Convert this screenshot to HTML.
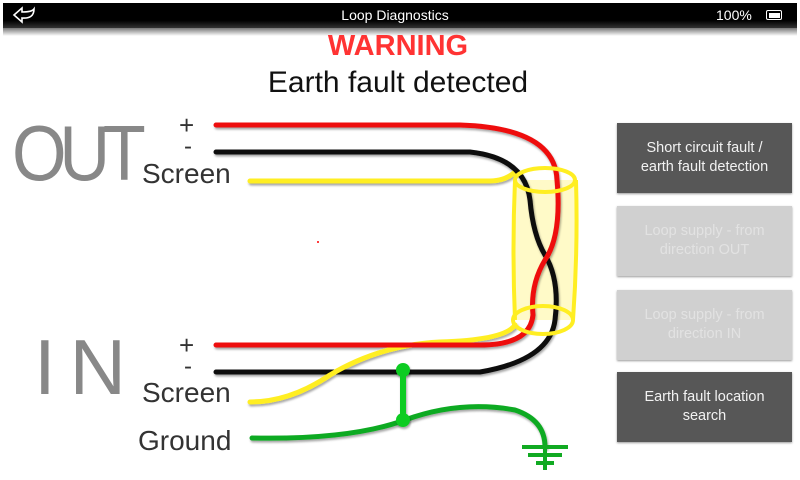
<!DOCTYPE html>
<html><head><meta charset="utf-8"><style>
html,body{margin:0;padding:0;background:#fff;width:800px;height:480px;overflow:hidden;font-family:"Liberation Sans",sans-serif}
.bar{position:absolute;left:3px;top:3px;width:794px;height:25px;background:linear-gradient(#000 0,#000 70%,#333 100%)}
.shade{position:absolute;left:3px;top:28px;width:794px;height:8px;background:linear-gradient(#777,#fff)}
.t{position:absolute;white-space:nowrap}
.btn{position:absolute;left:617px;width:175px;height:70px;display:flex;align-items:center;justify-content:center;text-align:center;font-size:14.5px;line-height:19px;box-shadow:0 1px 2px #999}
.dk{background:#575757;color:#f2f2f2}.lt{background:#d0d0d0;color:#e2e2e2}
</style></head><body>
<div class="bar"></div>
<div class="shade"></div>
<svg class="t" style="left:10px;top:5px" width="28" height="20"><path d="M4 10 L12 3 L12 7 Q22 7 24 4 Q24 14 12 13 L12 17 Z" fill="none" stroke="#fff" stroke-width="1.6"/></svg>
<div class="t" style="left:0;width:790px;text-align:center;top:7px;color:#fff;font-size:14px">Loop Diagnostics</div>
<div class="t" style="left:716px;top:7px;color:#fff;font-size:14px">100%</div>
<div class="t" style="left:766px;top:10px;width:14px;height:8px;border:1.5px solid #fff;border-radius:2px"><div style="margin:1.5px;height:5px;background:#fff"></div></div>
<div class="t" style="left:0;width:796px;text-align:center;top:30px;color:#ff3333;font-size:29px;font-weight:bold">WARNING</div>
<div class="t" style="left:0;width:796px;text-align:center;top:66px;color:#111;font-size:30px">Earth fault detected</div>

<svg class="t" style="left:0;top:0" width="800" height="480">
<defs><filter id="sh"><feDropShadow dx="1" dy="2" stdDeviation="1" flood-color="#000" flood-opacity="0.35"/></filter></defs>
<path d="M515 180 Q512 250 515 320 L573 320 Q578 250 576 180 Z" fill="#fff8b0" fill-opacity="0.7"/>
<g fill="none" stroke-width="5" stroke-linecap="round" filter="url(#sh)">
<path d="M250 181 L490 181 Q505 181 515 172" stroke="#ffee22"/>
<path d="M216 152 L470 152 Q525 158 530 200 Q533 235 545 255 Q560 280 555 320 Q550 360 480 372 L216 372" stroke="#111"/>
<path d="M250 402 Q290 402 330 375 Q380 345 440 342 Q505 340 515 325" stroke="#ffee22"/>
<path d="M216 125 L460 125 Q555 128 557 180 Q562 235 545 260 Q530 285 533 315 Q530 345 480 345 L216 345" stroke="#ee1111"/>
<path d="M252 438 Q350 440 405 420 Q460 400 515 410 Q545 420 545 447" stroke="#11aa22"/>
</g>
<g fill="none" stroke="#ffee22" stroke-width="4">
<path d="M515 180 Q512 250 515 320 M576 180 Q578 250 573 320"/>
<ellipse cx="545" cy="180" rx="30" ry="12"/>
<ellipse cx="543" cy="320" rx="30" ry="14"/>
</g>
<g filter="url(#sh)">
<line x1="403" y1="370" x2="403" y2="420" stroke="#11cc22" stroke-width="6"/>
<circle cx="403" cy="370" r="7" fill="#11cc22"/><circle cx="403" cy="420" r="7" fill="#11cc22"/>
</g>
<g stroke="#11aa22" stroke-width="4">
<line x1="545" y1="445" x2="545" y2="470"/>
<line x1="522" y1="447" x2="568" y2="447"/><line x1="528" y1="455" x2="562" y2="455"/><line x1="536" y1="463" x2="554" y2="463"/>
</g>
<circle cx="318" cy="242" r="1" fill="red"/>
</svg>

<div class="t" style="left:12px;top:108px;color:#888;font-size:78px;letter-spacing:-8px;transform:scaleX(0.9);transform-origin:left">OUT</div>
<div class="t" style="left:34px;top:322px;color:#888;font-size:78px;letter-spacing:14px">IN</div>
<div class="t" style="left:179px;top:110px;color:#333;font-size:26px">+</div>
<div class="t" style="left:184px;top:133px;color:#333;font-size:24px">-</div>
<div class="t" style="left:142px;top:158px;color:#333;font-size:28px">Screen</div>
<div class="t" style="left:179px;top:330px;color:#333;font-size:26px">+</div>
<div class="t" style="left:184px;top:353px;color:#333;font-size:24px">-</div>
<div class="t" style="left:142px;top:377px;color:#333;font-size:28px">Screen</div>
<div class="t" style="left:138px;top:425px;color:#333;font-size:28px">Ground</div>

<div class="btn dk" style="top:123px">Short circuit fault /<br>earth fault detection</div>
<div class="btn lt" style="top:206px">Loop supply - from<br>direction OUT</div>
<div class="btn lt" style="top:290px">Loop supply - from<br>direction IN</div>
<div class="btn dk" style="top:372px">Earth fault location<br>search</div>
</body></html>
